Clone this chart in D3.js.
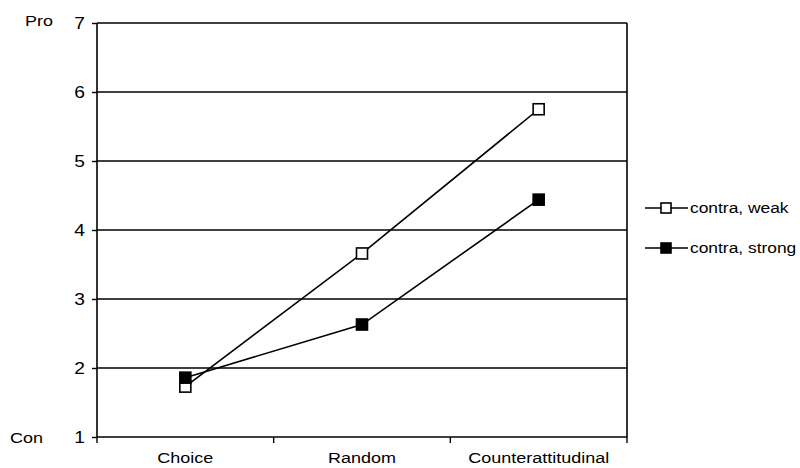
<!DOCTYPE html>
<html><head><meta charset="utf-8">
<script src="https://cdn.jsdelivr.net/npm/d3@7"></script>
<style>body{margin:0;background:#fff}svg{display:block}text{font-family:"Liberation Sans",Arial,sans-serif;fill:#000}</style>
</head><body><svg id="c" width="800" height="468"></svg>
<script>
const categories = ["Choice", "Random", "Counterattitudinal"];
const weakValues = [1.73, 3.66, 5.75];
const strongValues = [1.86, 2.63, 4.44];
const seriesNames = ["contra, weak", "contra, strong"];
const yTicks = [1, 2, 3, 4, 5, 6, 7];
const yEndLabels = ["Con", "Pro"];

const svg = d3.select("#c");
const x = d3.scaleBand().domain(categories).range([97, 627]).padding(0);
const y = d3.scaleLinear().domain([1, 7]).range([437, 23]);
const SX = 1.2;

// gridlines
svg.append("g").selectAll("line").data(yTicks).join("line")
  .attr("x1", 97).attr("x2", 627)
  .attr("y1", d => y(d)).attr("y2", d => y(d))
  .attr("stroke", "#000").attr("stroke-width", 1.6);
// right border
svg.append("line").attr("x1", 627).attr("x2", 627).attr("y1", y(7)).attr("y2", y(1))
  .attr("stroke", "#000").attr("stroke-width", 1.6);

// y axis
const ya = svg.append("g").attr("transform", "translate(97,0)")
  .call(d3.axisLeft(y).tickValues(yTicks).tickSize(5).tickFormat(""));
ya.select(".domain").attr("stroke-width", 1.6).attr("d", `M0,${y(1)}V${y(7)}`);
ya.selectAll(".tick line").attr("stroke-width", 1.4);

// x axis ticks at band boundaries
const bounds = categories.map(c => x(c)).concat([x.range()[1]]);
svg.append("g").selectAll("line").data(bounds).join("line")
  .attr("x1", d => d).attr("x2", d => d).attr("y1", y(1)).attr("y2", y(1) + 6)
  .attr("stroke", "#000").attr("stroke-width", 1.4);

function stext(g, xx, yy, str, size, anchor) {
  g.append("text").attr("transform", `translate(${xx},${yy}) scale(${SX},1)`)
    .attr("text-anchor", anchor).attr("font-size", size).text(str);
}
const tg = svg.append("g");
yTicks.forEach(t => stext(tg, 85, y(t) + 6, String(t), 16, "end"));
stext(tg, 10, y(1) + 6, yEndLabels[0], 15, "start");
stext(tg, 25, y(7) + 3, yEndLabels[1], 15, "start");
categories.forEach(c => stext(tg, x(c) + x.bandwidth() / 2, 463, c, 15, "middle"));

// lines & markers
const line = d3.line().x((d, i) => x(categories[i]) + x.bandwidth() / 2).y(d => y(d));
const series = [{vals: weakValues, fill: "#fff"}, {vals: strongValues, fill: "#000"}];
const ms = 11;
series.forEach(s => {
  svg.append("path").attr("d", line(s.vals)).attr("fill", "none").attr("stroke", "#000").attr("stroke-width", 1.6);
});
series.forEach(s => {
  svg.append("g").selectAll("rect").data(s.vals).join("rect")
    .attr("x", (d, i) => x(categories[i]) + x.bandwidth() / 2 - ms / 2)
    .attr("y", d => y(d) - ms / 2).attr("width", ms).attr("height", ms)
    .attr("fill", s.fill).attr("stroke", "#000").attr("stroke-width", 1.6);
});

// legend
const ly = [208, 248];
seriesNames.forEach((n, i) => {
  svg.append("line").attr("x1", 645).attr("x2", 688).attr("y1", ly[i]).attr("y2", ly[i])
    .attr("stroke", "#000").attr("stroke-width", 1.6);
  svg.append("rect").attr("x", 661).attr("y", ly[i] - 5).attr("width", 10).attr("height", 10)
    .attr("fill", series[i].fill).attr("stroke", "#000").attr("stroke-width", 1.6);
  stext(svg, 690, ly[i] + 5, n, 14.5, "start");
});
</script></body></html>
